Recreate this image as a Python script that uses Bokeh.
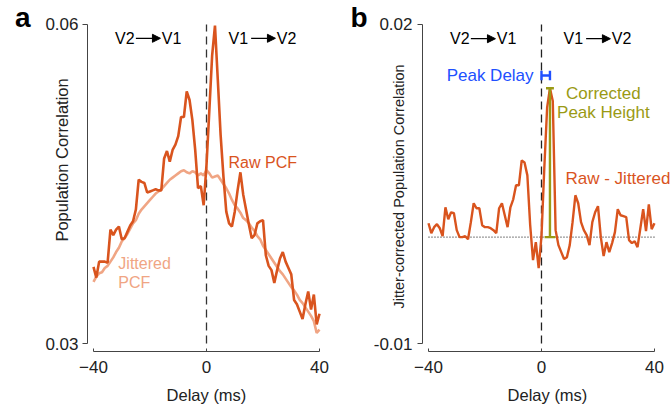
import math
from bokeh.plotting import figure
from bokeh.layouts import row
from bokeh.models import Label, Arrow, NormalHead, FixedTicker, Range1d, LinearAxis
from bokeh.embed import file_html
from bokeh.resources import INLINE

# ---------------- data ----------------
delay = list(range(-40, 41))

raw_pcf = [0.0372, 0.0362, 0.0377, 0.0377, 0.0377, 0.0376, 0.0407, 0.0402, 0.0407, 0.0410,
           0.0398, 0.0399, 0.0405, 0.0411, 0.0415, 0.0426, 0.0454, 0.0452, 0.0451, 0.0442,
           0.0443, 0.0444, 0.0445, 0.0444, 0.0444, 0.0474, 0.0481, 0.0471, 0.0482, 0.0487,
           0.0495, 0.0513, 0.0513, 0.0537, 0.0529, 0.0510, 0.0482, 0.0446, 0.0448, 0.0430,
           0.0468, 0.0519, 0.0571, 0.0599, 0.0548, 0.0496, 0.0457, 0.0424, 0.0413, 0.0410,
           0.0424, 0.0444, 0.0461, 0.0440, 0.0426, 0.0412, 0.0399, 0.0402, 0.0413, 0.0415,
           0.0416, 0.0383, 0.0373, 0.0369, 0.0357, 0.0369, 0.0380, 0.0386, 0.0377, 0.0371,
           0.0365, 0.0341, 0.0337, 0.0330, 0.0323, 0.0337, 0.0349, 0.0332, 0.0346, 0.0318, 0.0328]

jittered_pcf = [0.0358, 0.0363, 0.0366, 0.0367, 0.0371, 0.0373, 0.0377, 0.0381, 0.0386, 0.0390,
                0.0396, 0.0399, 0.0403, 0.0408, 0.0413, 0.0416, 0.0422, 0.0426, 0.0429, 0.0432,
                0.0435, 0.0438, 0.0441, 0.0443, 0.0445, 0.0448, 0.0451, 0.0454, 0.0456, 0.0458,
                0.0460, 0.0462, 0.0463, 0.0461, 0.0460, 0.0462, 0.0461, 0.0458, 0.0460, 0.0458,
                0.0463, 0.0460, 0.0456, 0.0457, 0.0458, 0.0454, 0.0450, 0.0446, 0.0441, 0.0435,
                0.0430, 0.0427, 0.0423, 0.0418, 0.0416, 0.0413, 0.0409, 0.0406, 0.0401, 0.0398,
                0.0392, 0.0388, 0.0384, 0.0380, 0.0376, 0.0372, 0.0368, 0.0365, 0.0361, 0.0357,
                0.0353, 0.0350, 0.0346, 0.0341, 0.0338, 0.0334, 0.0330, 0.0326, 0.0321, 0.0310, 0.0313]

corrected = [0.00131, 0.00038, 0.00094, 0.00122, 0.00084, 0.00009, 0.00281, 0.00169, 0.00234, 0.00225,
             0.00066, 0.0, 0.0, 0.00009, -0.00019, 0.00141, 0.00319, 0.00272, 0.00272, 0.00113,
             0.00094, 0.00094, 0.00084, 0.00066, 0.00038, 0.00272, 0.00319, 0.00206, 0.00094, 0.00281,
             0.00356, 0.00488, 0.00488, 0.00722, 0.00703, 0.00581, 0.00113, -0.00216, -0.00047, -0.00291,
             0.00009, 0.00650, 0.01219, 0.01400, 0.01280, 0.00066, -0.00075, -0.00141, -0.00206, -0.00188,
             -0.00075, 0.00141, 0.00394, 0.00319, 0.00141, 0.00066, 0.00019, -0.00075, 0.00141, 0.00234,
             0.00291, 0.0, -0.00178, -0.00047, -0.00141, -0.00056, 0.00047, 0.00263, 0.00206, 0.00197,
             0.00188, -0.00028, -0.00056, -0.00038, -0.00094, 0.00084, 0.00263, 0.00056, 0.00309, 0.00075, 0.00131]

peak_delay = 3
peak_height = 0.0140
x_ticks = [-40, 0, 40]
left_y_ticks = [0.03, 0.06]
right_y_ticks = [-0.01, 0.02]

# ---------------- style ----------------
FONT = "Liberation Sans"
ORANGE = "#D9541E"
SALMON = "#F0A584"
OLIVE = "#9A9A14"
BLUE = "#2050FF"
AX = "#222222"
PX = 0.03 / 320.0   # data units per pixel (both panels)


def make_fig(yticks, x_end, ylabel, ylabel_size, tick_standoff, letter, letter_standoff,
             label_top_px, label_standoff, bl, br):
    y_lo, y_hi = yticks
    y_end = y_hi + 14 * PX          # frame top at 10 px
    y_start = y_lo - 8 * PX         # frame bottom at 352 px
    p = figure(width=336, height=406, output_backend="svg", toolbar_location=None,
               x_range=Range1d(-42.12, x_end), y_range=Range1d(y_start, y_end),
               min_border_left=bl, min_border_right=br, min_border_top=10, min_border_bottom=54)
    p.outline_line_color = None
    p.grid.visible = False
    p.background_fill_color = "white"
    p.border_fill_color = "white"
    # x axis
    xa = p.xaxis[0]
    xa.ticker = FixedTicker(ticks=x_ticks)
    xa.bounds = (x_ticks[0], x_ticks[-1])
    xa.axis_label = "Delay (ms)"
    xa.axis_label_text_font = FONT
    xa.axis_label_text_font_size = "16.5px"
    xa.axis_label_text_font_style = "normal"
    xa.axis_label_text_color = AX
    xa.axis_label_standoff = 10
    xa.major_label_text_font = FONT
    xa.major_label_text_font_size = "17px"
    xa.major_label_text_color = AX
    xa.major_label_standoff = 9
    xa.major_tick_in = 3
    xa.major_tick_out = 0
    xa.minor_tick_line_color = None
    xa.axis_line_color = "#444444"
    xa.major_tick_line_color = "#444444"
    # primary y axis (ticks only)
    ya = p.yaxis[0]
    ya.ticker = FixedTicker(ticks=yticks)
    ya.bounds = (y_lo, y_hi)
    ya.major_label_overrides = {t: f"{t:.2f}" for t in yticks}
    ya.major_label_text_font = FONT
    ya.major_label_text_font_size = "17px"
    ya.major_label_text_color = AX
    ya.major_label_standoff = tick_standoff
    ya.major_tick_in = 0
    ya.major_tick_out = 5
    ya.minor_tick_line_color = None
    ya.axis_line_color = "#444444"
    ya.major_tick_line_color = "#444444"
    # outer axis carrying the panel letter
    letter_y = round(y_hi + 7 * PX, 7)
    let_ax = LinearAxis(ticker=FixedTicker(ticks=[letter_y]),
                        major_label_overrides={letter_y: letter},
                        major_label_text_font=FONT, major_label_text_font_size="28px",
                        major_label_text_font_style="bold", major_label_text_color="black",
                        major_label_standoff=letter_standoff,
                        major_tick_in=0, major_tick_out=0, minor_tick_line_color=None,
                        major_tick_line_color=None, axis_line_color=None)
    p.add_layout(let_ax, "left")
    # outermost axis carrying the y title as a rotated tick label (anchored at its end)
    top = round(y_hi - (label_top_px - 24) * PX, 7)
    lab_ax = LinearAxis(ticker=FixedTicker(ticks=[top]),
                        major_label_overrides={top: ylabel},
                        major_label_orientation=math.pi / 2,
                        major_label_text_font=FONT, major_label_text_font_size=ylabel_size,
                        major_label_text_color=AX, major_label_standoff=label_standoff,
                        major_tick_in=0, major_tick_out=0, minor_tick_line_color=None,
                        major_tick_line_color=None, axis_line_color=None)
    p.add_layout(lab_ax, "left")
    return p


def add_text(p, x, y, text, color, size="16px", align="left"):
    p.add_layout(Label(x=x, y=y, text=text, text_color=color, text_font=FONT,
                       text_font_size=size, text_align=align, text_baseline="middle"))


def add_direction(p, y):
    add_text(p, -32.4, y, "V2", "black")
    p.add_layout(Arrow(end=NormalHead(size=8, fill_color="black", line_color="black"),
                       x_start=-25.0, y_start=y, x_end=-16.3, y_end=y,
                       line_color="black", line_width=1.2))
    add_text(p, -15.8, y, "V1", "black")
    add_text(p, 7.8, y, "V1", "black")
    p.add_layout(Arrow(end=NormalHead(size=8, fill_color="black", line_color="black"),
                       x_start=15.8, y_start=y, x_end=24.4, y_end=y,
                       line_color="black", line_width=1.2))
    add_text(p, 24.9, y, "V2", "black")


# ---------------- panel a ----------------
pa = make_fig(left_y_ticks, 42.12, "Population Correlation", "16.5px", 4, "a", 12, 78, -51, 87, 11)
pa.line([0, 0], left_y_ticks, line_color="#333333", line_width=1.3, line_dash="8 5")
pa.line(delay, jittered_pcf, line_color=SALMON, line_width=2.6)
pa.line(delay, raw_pcf, line_color=ORANGE, line_width=2.6)
add_direction(pa, 0.0587)
add_text(pa, 7.8, 0.04706, "Raw PCF", ORANGE)
add_text(pa, -31.2, 0.0375, "Jittered", SALMON)
add_text(pa, -31.2, 0.03572, "PCF", SALMON)

# ---------------- panel b ----------------
pb = make_fig(right_y_ticks, 46.38, "Jitter-corrected Population Correlation", "14.5px", 5, "b", 3,
              64, -52, 86, 0)
pb.line([x_ticks[0], x_ticks[-1]], [0, 0], line_color="#333333", line_width=1.2, line_dash="1 2")
pb.line([0, 0], right_y_ticks, line_color="#222222", line_width=1.3, line_dash="8 5")
pb.line(delay, corrected, line_color=ORANGE, line_width=2.4)
# corrected peak height (olive)
pb.segment(x0=[peak_delay, peak_delay - 1.4, peak_delay - 1.9],
           y0=[0, peak_height, 0],
           x1=[peak_delay, peak_delay + 1.4, peak_delay + 1.9],
           y1=[peak_height, peak_height, 0],
           line_color=OLIVE, line_width=2.4)
# peak delay (blue)
yd = 0.0152
pb.segment(x0=[0, 0, peak_delay], y0=[yd, yd - 0.00045, yd - 0.00045],
           x1=[peak_delay, 0, peak_delay], y1=[yd, yd + 0.00045, yd + 0.00045],
           line_color=BLUE, line_width=2.4)
add_direction(pb, 0.01866)
add_text(pb, -2.8, yd, "Peak Delay", BLUE, size="17px", align="right")
add_text(pb, 21.9, 0.0135, "Corrected", OLIVE, size="17px", align="center")
add_text(pb, 21.9, 0.01172, "Peak Height", OLIVE, size="17px", align="center")
add_text(pb, 8.5, 0.00553, "Raw - Jittered", ORANGE, size="17px")

layout = row(pa, pb)
open("out.html", "w").write(file_html(layout, INLINE))
